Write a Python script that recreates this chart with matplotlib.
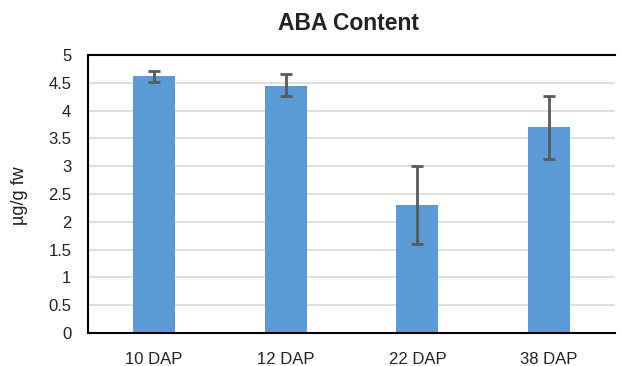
import matplotlib
matplotlib.use("Agg")
import matplotlib.pyplot as plt

categories = ["10 DAP", "12 DAP", "22 DAP", "38 DAP"]
values = [4.62, 4.45, 2.31, 3.70]
err_low = [0.10, 0.18, 0.71, 0.57]
err_high = [0.09, 0.21, 0.70, 0.57]
yticks = [0, 0.5, 1, 1.5, 2, 2.5, 3, 3.5, 4, 4.5, 5]
ytick_labels = ["0", "0.5", "1", "1.5", "2", "2.5", "3", "3.5", "4", "4.5", "5"]

plt.rcParams['font.family'] = ['Liberation Sans', 'DejaVu Sans']

fig = plt.figure(figsize=(6.21, 3.66), dpi=100)
ax = fig.add_axes([88/621, 33/366, 527/621, 278/366])

x = list(range(len(categories)))
ax.bar(x, values, width=0.32, color="#5b9bd5", zorder=2)
ax.errorbar(x, values, yerr=[err_low, err_high], fmt="none", ecolor="#595959",
            elinewidth=2, capsize=4, capthick=2, zorder=3)

ax.set_xlim(-0.5, len(categories) - 0.5)
ax.set_ylim(0, 5)
ax.set_yticks(yticks)
ax.set_yticklabels(ytick_labels)
ax.set_xticks(x)
ax.set_xticklabels(categories)
ax.tick_params(axis="y", length=0, pad=12, labelsize=12)
ax.tick_params(axis="x", length=0, pad=14, labelsize=12)
for lab in ax.get_yticklabels() + ax.get_xticklabels():
    lab.set_color("#222222")

ax.grid(axis="y", color="#d9d9d9", linewidth=1.2, zorder=0)
ax.set_axisbelow(True)
for s in ["left", "bottom", "top"]:
    ax.spines[s].set_color("black")
    ax.spines[s].set_linewidth(1.5)
ax.spines["right"].set_visible(False)

fig.text(20/621, (366 - 196)/366, "µg/g fw", rotation=90, ha="center", va="center",
         fontsize=13, color="#222222")
fig.text((277 + 420) / 2 / 621, 1 - 23/366, "ABA Content", ha="center", va="center",
         fontsize=16.5, fontweight="bold", color="#222222")

fig.savefig("out.png", dpi=100)
